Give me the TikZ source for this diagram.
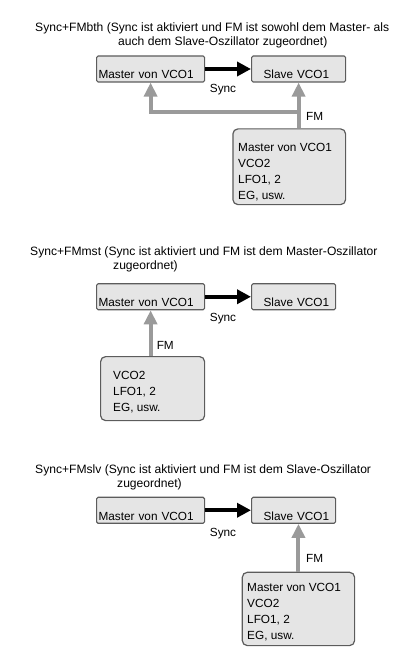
\documentclass[tikz,border=0pt]{standalone}
\usepackage{fontspec}
\setmainfont{Liberation Sans}
\usetikzlibrary{arrows.meta}
\definecolor{boxfill}{HTML}{E5E5E5}
\definecolor{boxline}{HTML}{5C5C5C}
\definecolor{fmgray}{HTML}{9A9A9A}
\tikzset{
  heading/.style={anchor=north west, inner sep=0pt, align=left, font=\fontsize{12.1}{14.5}\selectfont},
  oscbox/.style={draw=boxline, fill=boxfill, line width=1.2pt, rounded corners=1.5pt, anchor=west, align=left, minimum height=26pt, inner xsep=2pt, inner ysep=0pt, text height=19.5pt, text depth=0pt, font=\fontsize{11.8}{14}\selectfont},
  srcbox/.style={draw=boxline, fill=boxfill, line width=1.2pt, rounded corners=5pt, anchor=north west, inner sep=0pt},
  srctxt/.style={anchor=north west, inner sep=0pt, align=left, font=\fontsize{11.8}{16}\selectfont},
  lbl/.style={anchor=base, inner sep=0pt, font=\fontsize{11.8}{14}\selectfont},
  syncarrow/.style={-{Triangle[length=14pt,width=14pt]}, line width=4pt},
  fmarrow/.style={-{Triangle[length=14pt,width=13pt]}, line width=4pt, fmgray}
}
\begin{document}
\begin{tikzpicture}[x=1pt,y=-1pt]
\useasboundingbox (0,0) rectangle (400,663);
\node[heading] (t1) at (35,22.2) {Sync+FMbth (Sync ist aktiviert und FM ist sowohl dem Master- als\\\hspace*{83pt}auch dem Slave-Oszillator zugeordnet)};
\node[oscbox, text width=104pt] (m1) at (96,69) {Master von VCO1};
\node[oscbox, text width=90pt] (s1) at (251,69) {\hspace*{10pt}Slave VCO1};
\draw[syncarrow] (m1) -- (s1);
\node[lbl] (sync1) at (223,92.3) {Sync};
\node[srcbox, minimum width=112.7pt, minimum height=75.7pt] (src1) at (232.3,128.3) {};
\node[srctxt] (src1txt) at ([shift={(5.7,14.3)}]src1.north west) {Master von VCO1\\VCO2\\LFO1, 2\\EG, usw.};
\coordinate (j1) at (298,112);
\draw[fmarrow] (s1 |- src1.north) -- (s1.south);
\draw[fmarrow] (j1) -| (m1.south);
\node[lbl] (fm1) at (314.7,120.7) {FM};

\node[heading] (t2) at (30,246.5) {Sync+FMmst (Sync ist aktiviert und FM ist dem Master-Oszillator\\\hspace*{83pt}zugeordnet)};
\node[oscbox, text width=104pt] (m2) at (96,296.75) {Master von VCO1};
\node[oscbox, text width=80pt] (s2) at (251,296.75) {\hspace*{10pt}Slave VCO1};
\draw[syncarrow] (m2) -- (s2);
\node[lbl] (sync2) at (223,321.7) {Sync};
\node[srcbox, minimum width=104pt, minimum height=64pt] (src2) at (100,356) {};
\node[srctxt] (src2txt) at ([shift={(13,14.7)}]src2.north west) {VCO2\\LFO1, 2\\EG, usw.};
\draw[fmarrow] (m2 |- src2.north) -- (m2.south);
\node[lbl] (fm2) at (165.3,349) {FM};

\node[heading] (t3) at (35,464.2) {Sync+FMslv (Sync ist aktiviert und FM ist dem Slave-Oszillator\\\hspace*{82pt}zugeordnet)};
\node[oscbox, text width=104pt] (m3) at (96,510.25) {Master von VCO1};
\node[oscbox, text width=80pt] (s3) at (251,510.25) {\hspace*{10pt}Slave VCO1};
\draw[syncarrow] (m3) -- (s3);
\node[lbl] (sync3) at (223,536) {Sync};
\node[srcbox, minimum width=112.3pt, minimum height=73.3pt] (src3) at (241.7,571.7) {};
\node[srctxt] (src3txt) at ([shift={(5.3,11.2)}]src3.north west) {Master von VCO1\\VCO2\\LFO1, 2\\EG, usw.};
\draw[fmarrow] (src3.north) -- (src3.north |- s3.south);
\node[lbl] (fm3) at (314.7,562.3) {FM};
\end{tikzpicture}
\end{document}
